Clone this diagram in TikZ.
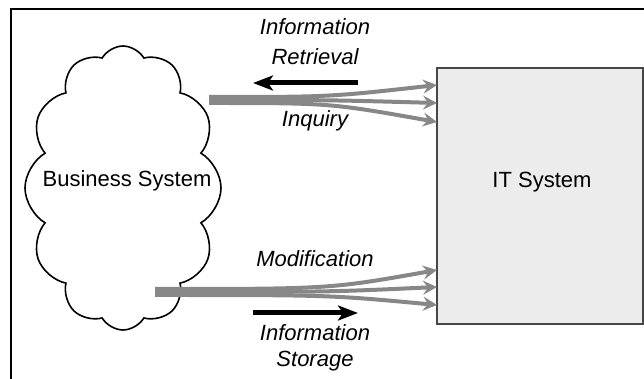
\documentclass[tikz,border=0pt]{standalone}
\usepackage{fontspec}
\setmainfont{Liberation Sans}
\usetikzlibrary{shapes.symbols,arrows.meta}
\definecolor{flowgray}{RGB}{135,135,135}
\definecolor{boxgray}{RGB}{236,236,236}
\definecolor{edgegray}{RGB}{70,70,70}

\begin{document}
\begin{tikzpicture}[x=0.5pt,y=-0.5pt,
    txt/.style={font=\fontsize{11}{13}\selectfont,anchor=base},
    lbl/.style={font=\fontsize{11}{13}\selectfont\itshape,anchor=base},
    flow/.style={draw=flowgray,line width=2pt,-{Stealth[length=7pt,width=7pt,inset=2.5pt]}},
    dirarrow/.style={line width=2.5pt,-{Stealth[length=10pt,width=7.5pt,inset=2.5pt]}}]
    \useasboundingbox (0,0) rectangle (644,379);
    \draw[line width=1.2pt] (11,379) -- (11,9) -- (644,9);
    \node[cloud, cloud puffs=12, cloud puff arc=120, cloud ignores aspect, draw, line width=0.8pt,
          minimum width=98pt, minimum height=142pt, inner sep=0pt] (bs) at (123,188) {};
    \node[txt] (bstext) at (127,187) {Business System};
    \node[draw=edgegray, fill=boxgray, line width=1pt, minimum width=103pt,
          minimum height=128pt, inner sep=0pt] (it) at (540,196) {};
    \node[txt] (ittext) at (542,188) {IT System};
    \node[lbl] (info1) at (315,35) {Information};
    \node[lbl] (retr) at (315,65) {Retrieval};
    \node[lbl] (inq) at (315,127) {Inquiry};
    \node[lbl] (modif) at (315,267) {Modification};
    \node[lbl] (info2) at (315,341) {Information};
    \node[lbl] (stor) at (315,367) {Storage};
    \coordinate (q0) at (209,100);
    \coordinate (q1) at (437,85);
    \coordinate (q2) at (437,103);
    \coordinate (q3) at (437,122);
    \coordinate (m0) at (155,292);
    \coordinate (m1) at (437,270);
    \coordinate (m2) at (437,287);
    \coordinate (m3) at (437,305);
    \draw[flow] ([yshift=1.5pt]q0) .. controls (330,97) .. (q1);
    \draw[flow] (q0) .. controls (330,100) .. (q2);
    \draw[flow] ([yshift=-1.5pt]q0) .. controls (330,103) .. (q3);
    \draw[flow] ([yshift=1.5pt]m0) .. controls (330,289) .. (m1);
    \draw[flow] (m0) .. controls (330,292) .. (m2);
    \draw[flow] ([yshift=-1.5pt]m0) .. controls (330,295) .. (m3);
    \coordinate (ret1) at (358,83);
    \coordinate (ret2) at (253,83);
    \coordinate (sto1) at (253,313);
    \coordinate (sto2) at (358,313);
    \draw[dirarrow] (ret1) -- (ret2);
    \draw[dirarrow] (sto1) -- (sto2);
\end{tikzpicture}
\end{document}
